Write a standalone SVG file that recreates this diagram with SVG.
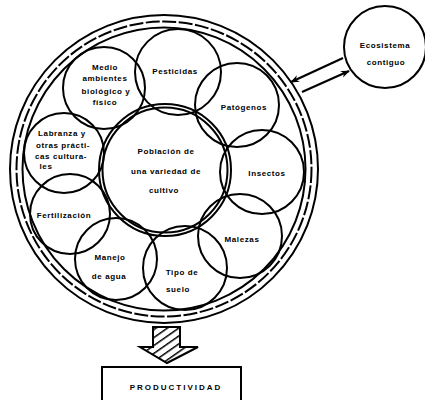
<svg xmlns="http://www.w3.org/2000/svg" width="425" height="400" viewBox="0 0 425 400">
<defs>
<style>
.c{fill:none;stroke:#000;stroke-width:2}
.r{fill:none;stroke:#000;stroke-width:2}
.t{font-family:"Liberation Sans",Arial,sans-serif;font-size:8px;font-weight:bold;fill:#000;text-anchor:middle;letter-spacing:0.6px}
.ln{stroke:#000;stroke-width:2.2;fill:none}
</style>
<marker id="ah2" viewBox="0 0 10 10" refX="9" refY="5" markerWidth="9" markerHeight="9" orient="auto" markerUnits="userSpaceOnUse">
<path d="M0,1 L10,5 L0,9 L3,5 Z" fill="#000"/>
</marker>
<pattern id="hatch" patternUnits="userSpaceOnUse" width="6.5" height="6.5" patternTransform="rotate(55)">
<rect width="6.5" height="6.5" fill="#fff"/>
<line x1="0" y1="0" x2="0" y2="6.5" stroke="#000" stroke-width="3"/>
</pattern>
</defs>
<rect width="425" height="400" fill="#fff"/>
<g id="sistema">
<circle class="r" cx="164" cy="169" r="154"/>
<circle class="r" cx="164" cy="169" r="147.5" stroke-width="1.6" stroke-dasharray="14 2.5"/>
<circle class="r" cx="164" cy="169" r="141.5"/>
</g>
<g id="poblacion">
<circle class="c" cx="165" cy="170" r="66"/>
<circle class="c" cx="165" cy="170" r="62.5" stroke-width="1.5"/>
<text class="t" x="166" y="154">Población de</text>
<text class="t" x="166" y="174">una variedad de</text>
<text class="t" x="164" y="193">cultivo</text>
</g>
<g id="medio">
<circle class="c" cx="104" cy="88" r="41"/>
<text class="t" x="105" y="70">Medio</text>
<text class="t" x="105" y="81">ambientes</text>
<text class="t" x="106" y="94">biológico y</text>
<text class="t" x="105" y="105">físico</text>
</g>
<g id="pesticidas">
<circle class="c" cx="178" cy="72" r="43"/>
<text class="t" x="175" y="74">Pesticidas</text>
</g>
<g id="patogenos">
<circle class="c" cx="237" cy="105" r="42"/>
<text class="t" x="244" y="110">Patógenos</text>
</g>
<g id="insectos">
<circle class="c" cx="262" cy="172" r="42"/>
<text class="t" x="267" y="176">Insectos</text>
</g>
<g id="malezas">
<circle class="c" cx="240" cy="236" r="42"/>
<text class="t" x="242" y="242">Malezas</text>
</g>
<g id="suelo">
<circle class="c" cx="185" cy="268" r="42"/>
<text class="t" x="182" y="275">Tipo de</text>
<text class="t" x="178" y="292">suelo</text>
</g>
<g id="agua">
<circle class="c" cx="116" cy="259" r="41"/>
<text class="t" x="110" y="260">Manejo</text>
<text class="t" x="109" y="279">de agua</text>
</g>
<g id="fertilizacion">
<circle class="c" cx="70" cy="214" r="40"/>
<text class="t" x="64" y="218">Fertilización</text>
</g>
<g id="labranza">
<circle class="c" cx="64" cy="153" r="40"/>
<text class="t" x="62" y="136">Labranza y</text>
<text class="t" x="63" y="148">otras prácti-</text>
<text class="t" x="61" y="159">cas cultura-</text>
<text class="t" x="46" y="169">les</text>
</g>
<g id="ecosistema">
<circle class="c" cx="385" cy="47" r="41"/>
<text class="t" x="385" y="48">Ecosistema</text>
<text class="t" x="386" y="65">contiguo</text>
</g>
<g id="productividad">
<polygon points="153,327 180,327 180,347 198,347 167,363 140,347 153,347" fill="url(#hatch)" stroke="#000" stroke-width="2"/>
<rect x="102" y="367" width="139" height="40" fill="none" stroke="#000" stroke-width="2"/>
<text class="t" x="176" y="390" style="letter-spacing:2px">PRODUCTIVIDAD</text>
</g>
<g id="conectores">
<line class="ln" x1="343" y1="58" x2="291" y2="82" marker-end="url(#ah2)"/>
<line class="ln" x1="302" y1="92" x2="349" y2="71" marker-end="url(#ah2)"/>
</g>
</svg>
